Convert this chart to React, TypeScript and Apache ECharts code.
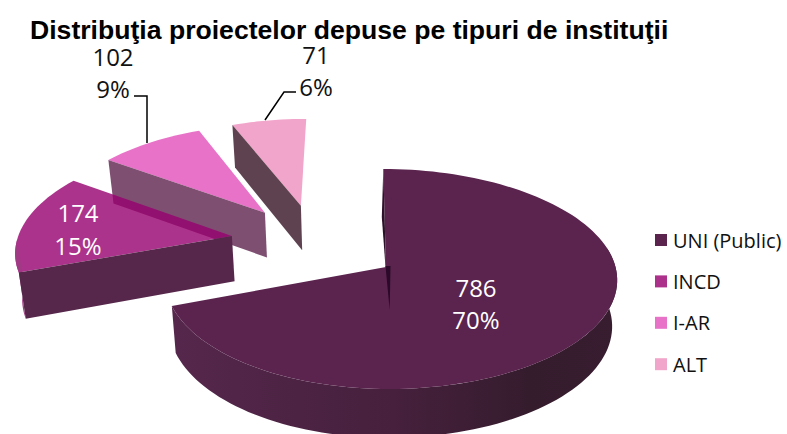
import React, { useEffect, useRef } from "react";
import * as echarts from "echarts";

const categories = ["UNI (Public)", "INCD", "I-AR", "ALT"];
const values = [786, 174, 102, 71];
const percents = ["70%", "15%", "9%", "6%"];
const titleText = "Distribuţia proiectelor depuse pe tipuri de instituţii";

const legendColors = ["#5B244F", "#AC318B", "#E872C8", "#F2A5CA"];
const topFills = ["#5B244F", "rgba(151,0,110,0.8)", "#E872C8", "#F2A5CA"];
const wallFills = ["#2D0F2B", "#56274B", "#7F4F72", "#5F4250"];
const rimFills: any[] = [
  {
    type: "linear", x: 0, y: 0, x2: 1, y2: 0,
    colorStops: [
      { offset: 0, color: "#55274C" },
      { offset: 0.5, color: "#46203D" },
      { offset: 0.8, color: "#351C2D" },
      { offset: 1, color: "#371D2F" },
    ],
  },
  "#A03A85",
  "#7F4F72",
  "#5F4250",
];
// explosion of each slice on the pie's plane, in radii
const explodeU = [0, -0.703, -0.562, -0.395];
const explodeV = [0, -0.295, -0.528, -0.6];
// label layout: centre of the two lines
const labelX = [476, 78, 113, 316];
const labelY = [[287, 319], [212, 245], [56, 88], [54, 86]];
const labelColor = ["#fff", "#fff", "#111", "#111"];
const leaders: number[][][] = [[], [], [[147, 143], [147, 96], [134, 96]], [[265, 120], [284, 92], [296, 92]]];

const CX = 386, CY = 267, R = 225, RY = 108.7, P = 0.109, SKEW = 3, DEPTH = 46, VX = 365, BEND = 0.02;

function proj(u: number, v: number, z: number): number[] {
  const s = 1 / (1 - P * v);
  let x = CX + (R * u + SKEW * v) * s;
  const y = CY + RY * v * s + DEPTH * Math.sqrt(s) * z;
  x += (VX - x) * 0.02 * z;
  return [x, y];
}

const total = values.reduce((a, b) => a + b, 0);
function startAngle(i: number) {
  let sum = 0;
  for (let k = 0; k < i; k++) sum += values[k];
  return (sum / total) * 360;
}

function point(i: number, deg: number, z: number, r = 1) {
  const a = (deg * Math.PI) / 180;
  const lu = r * Math.sin(a);
  return proj(explodeU[i] + lu + BEND * lu * lu, explodeV[i] - r * Math.cos(a), z);
}

function arc(i: number, from: number, to: number, z: number) {
  const pts: number[][] = [];
  const n = Math.max(2, Math.ceil(Math.abs(to - from) / 2));
  for (let k = 0; k <= n; k++) pts.push(point(i, from + ((to - from) * k) / n, z));
  return pts;
}

function renderSlice(i: number) {
  const a0 = startAngle(i);
  const a1 = a0 + (values[i] / total) * 360;
  const children: any[] = [];
  const r0 = Math.max(a0, 80);
  const r1 = Math.min(a1, 268);
  const rim =
    r1 > r0
      ? {
          type: "polygon",
          shape: { points: [...arc(i, r0, r1, 0), ...arc(i, r0, r1, 1).reverse()] },
          style: { fill: rimFills[i] },
        }
      : null;
  if (rim && i === 0) children.push(rim);
  // top
  children.push({
    type: "polygon",
    shape: { points: [point(i, a0, 0, 0), ...arc(i, a0, a1, 0)] },
    style: { fill: topFills[i] },
  });
  if (rim && i > 0) children.push(rim);
  // cut face
  if (i > 0) {
    children.push({
      type: "polygon",
      shape: { points: [point(i, a0, 0, 0), point(i, a0, 0), point(i, a0, 1), point(i, a0, 1, 0)] },
      style: { fill: wallFills[i] },
    });
  }
  if (i === 0) {
    // the thin dark sliver of the hidden cut face at the top of the big slice
    const back = point(i, 0, 0);
    const apex = point(i, 0, 0, 0);
    children.push({
      type: "polygon",
      shape: { points: [back, [back[0] - 1.5, back[1] + 48], [apex[0] - 0.5, apex[1]], apex] },
      style: { fill: "#2D1029" },
    });
    children.push({
      type: "polygon",
      shape: { points: [[apex[0] - 0.5, apex[1] - 1], [apex[0] + 4.5, apex[1] - 1], [apex[0] + 3.7, apex[1] + 43]] },
      style: { fill: "#2A0A28" },
    });
  }
  if (leaders[i].length) {
    children.push({
      type: "polyline",
      shape: { points: leaders[i] },
      style: { stroke: "#000", lineWidth: 1.5, fill: "none" },
    });
  }
  [String(values[i]), percents[i]].forEach((t, k) => {
    children.push({
      type: "text",
      x: labelX[i],
      y: labelY[i][k],
      style: {
        text: t,
        fill: labelColor[i],
        font: '24px "Open Sans"',
        lineHeight: 18,
        align: "center",
        verticalAlign: "middle",
      },
    });
  });
  return { type: "group", children };
}

export default function App() {
  const ref = useRef<HTMLDivElement>(null);
  useEffect(() => {
    document.body.style.margin = "0";
    const chart = echarts.init(ref.current!, undefined, { renderer: "svg" });
    chart.setOption({
      animation: false,
      backgroundColor: "#fff",
      title: {
        text: titleText,
        left: 25,
        top: 11,
        textStyle: { fontFamily: "Liberation Sans", fontWeight: "bold", fontSize: 26.6, lineHeight: 27, color: "#000" },
      },
      legend: {
        data: categories,
        orient: "vertical",
        left: 650,
        top: 225,
        icon: "rect",
        itemWidth: 12,
        itemHeight: 12,
        itemGap: 21.4,
        selectedMode: false,
        textStyle: { fontFamily: "Open Sans", fontSize: 20, color: "#111", padding: [0, 0, 0, 1] },
      },
      series: categories.map((name, i) => ({
        type: "custom",
        name,
        coordinateSystem: "none",
        z: 10 - i,
        silent: true,
        itemStyle: { color: legendColors[i] },
        data: [[values[i]]],
        renderItem: () => renderSlice(i),
      })),
    });
    return () => chart.dispose();
  }, []);
  return <div ref={ref} style={{ width: 787, height: 434 }} />;
}
